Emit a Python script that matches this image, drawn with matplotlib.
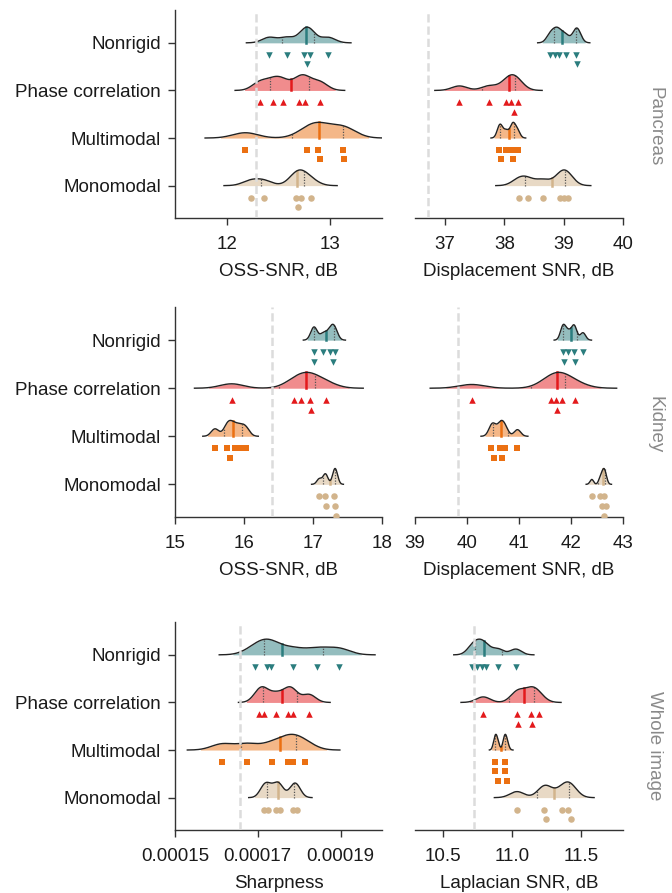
import numpy as np
import matplotlib.pyplot as plt

plt.rcParams['font.family'] = ['Liberation Sans', 'DejaVu Sans']

methods = ['Nonrigid', 'Phase correlation', 'Multimodal', 'Monomodal']
colors = ['#2b7d7e', '#e31a1c', '#eb7012', '#d2b48c']
markers = ['v', '^', 's', 'o']
regions = ['Pancreas', 'Kidney', 'Whole image']

# values per method, order as in `methods`
pancreas_oss = [
    [12.41, 12.58, 12.75, 12.78, 12.80, 12.98],
    [12.32, 12.45, 12.54, 12.70, 12.76, 12.90],
    [12.18, 12.78, 12.88, 12.90, 13.12, 13.13],
    [12.23, 12.36, 12.67, 12.69, 12.72, 12.81],
]
pancreas_disp = [
    [38.77, 38.86, 38.92, 39.03, 39.21, 39.23],
    [37.24, 37.74, 38.03, 38.11, 38.16, 38.22],
    [37.91, 37.94, 38.03, 38.13, 38.15, 38.22],
    [38.24, 38.39, 38.65, 38.94, 39.01, 39.07],
]
kidney_oss = [
    [17.01, 17.02, 17.15, 17.24, 17.29, 17.32],
    [15.82, 16.73, 16.83, 16.96, 16.97, 17.19],
    [15.58, 15.75, 15.80, 15.87, 15.95, 16.03],
    [17.09, 17.17, 17.19, 17.31, 17.32, 17.33],
]
kidney_disp = [
    [41.84, 41.86, 41.95, 42.05, 42.07, 42.23],
    [40.09, 41.62, 41.72, 41.74, 41.82, 42.08],
    [40.47, 40.51, 40.63, 40.67, 40.74, 40.97],
    [42.40, 42.56, 42.60, 42.63, 42.64, 42.67],
]
whole_sharp = [
    [0.0001694, 0.0001723, 0.0001733, 0.0001785, 0.0001844, 0.0001896],
    [0.0001704, 0.0001714, 0.0001744, 0.0001773, 0.0001784, 0.0001824],
    [0.0001614, 0.0001674, 0.0001734, 0.0001773, 0.0001784, 0.0001814],
    [0.0001714, 0.0001725, 0.0001744, 0.0001754, 0.0001785, 0.0001795],
]
whole_lap = [
    [10.710, 10.744, 10.780, 10.812, 10.899, 11.027],
    [10.792, 11.036, 11.046, 11.133, 11.145, 11.193],
    [10.879, 10.879, 10.896, 10.947, 10.947, 10.964],
    [11.036, 11.232, 11.244, 11.360, 11.406, 11.428],
]

panels = [
    [pancreas_oss, pancreas_disp],
    [kidney_oss, kidney_disp],
    [whole_sharp, whole_lap],
]
ref_lines = [[12.285, 36.71], [16.40, 39.82], [0.0001658, 10.727]]
xlabels = [['OSS-SNR, dB', 'Displacement SNR, dB'],
           ['OSS-SNR, dB', 'Displacement SNR, dB'],
           ['Sharpness', 'Laplacian SNR, dB']]
xlims = [[(11.5, 13.5), (36.49, 40.0)],
         [(15, 18), (39, 43)],
         [(0.00015, 0.0002), (10.3, 11.8)]]
xticks = [[[12, 13], [37, 38, 39, 40]],
          [[15, 16, 17, 18], [39, 40, 41, 42, 43]],
          [[0.00015, 0.00017, 0.00019], [10.5, 11.0, 11.5]]]
xticklabels = [[['12', '13'], ['37', '38', '39', '40']],
               [['15', '16', '17', '18'], ['39', '40', '41', '42', '43']],
               [['0.00015', '0.00017', '0.00019'], ['10.5', '11.0', '11.5']]]

W, H = 672, 893
fig = plt.figure(figsize=(W / 100, H / 100), dpi=100)

row_px = [(10, 218), (307, 517), (622, 830)]
col_px = [(175, 382), (415, 623)]
label_y = [127, 425, 746]
FS = 13.5


def swarm_offsets(v, sep):
    rows = []
    ys = np.zeros(len(v))
    for k in np.argsort(v):
        r = 0
        while r < len(rows) and any(abs(v[k] - v[j]) < sep for j in rows[r]):
            r += 1
        if r == len(rows):
            rows.append([])
        rows[r].append(k)
        ys[k] = 0.25 + 0.2 * r
    return ys


def draw_panel(ax, groups, xlim, ref):
    span = xlim[1] - xlim[0]
    for i, (vals, col, mk) in enumerate(zip(groups, colors, markers)):
        v = np.asarray(vals, float)
        bw = 0.5 * v.std(ddof=1) * len(v) ** -0.2
        grid = np.linspace(v.min() - 3.2 * bw, v.max() + 3.2 * bw, 500)
        dens = np.exp(-0.5 * ((grid[:, None] - v[None, :]) / bw) ** 2).sum(1)
        dens = dens / dens.max() * 0.33
        inside = (grid >= v.min() - 2 * bw) & (grid <= v.max() + 2 * bw)
        ax.fill_between(grid, i, i - dens, where=inside, color=col, alpha=0.5, lw=0, zorder=2)
        ax.plot(grid, i - dens, color='#222222', lw=1, zorder=4)

        med = np.median(v)
        q1, q3 = np.percentile(v, [25, 75], method='weibull')
        ax.plot([med, med], [i, i - np.interp(med, grid, dens)], color=col, lw=1.8, zorder=3)
        for q in (q1, q3):
            ax.plot([q, q], [i, i - np.interp(q, grid, dens)], color='#555555',
                    lw=0.9, ls=(0, (1, 1.2)), zorder=3)

        ys = i + swarm_offsets(v, 0.017 * span)
        ax.scatter(v, ys, marker=mk, s=22, color=col, lw=0, zorder=3)

    ax.axvline(ref, color='#dcdcdc', lw=1.8, ls=(0, (3.3, 1.6)), zorder=5)
    ax.set_xlim(*xlim)
    ax.set_ylim(3.68, -0.69)
    for s in ('top', 'right'):
        ax.spines[s].set_visible(False)
    for s in ('left', 'bottom'):
        ax.spines[s].set_color('#333333')
        ax.spines[s].set_linewidth(1)
    ax.tick_params(colors='#333333', labelcolor='#1a1a1a', length=5, width=1,
                   pad=5, labelsize=FS)
    ax.tick_params(axis='x', pad=8)


for r in range(3):
    top, bot = row_px[r]
    for c in range(2):
        x0, x1 = col_px[c]
        ax = fig.add_axes([x0 / W, 1 - bot / H, (x1 - x0) / W, (bot - top) / H])
        draw_panel(ax, panels[r][c], xlims[r][c], ref_lines[r][c])
        ax.set_xticks(xticks[r][c])
        ax.set_xticklabels(xticklabels[r][c])
        ax.set_xlabel(xlabels[r][c], fontsize=FS, color='#1a1a1a', labelpad=7)
        if c == 0:
            ax.set_yticks(range(4))
            ax.set_yticklabels(methods, fontsize=FS)
        else:
            ax.spines['left'].set_visible(False)
            ax.set_yticks([])
    fig.text(655 / W, 1 - label_y[r] / H, regions[r], rotation=-90, color='#8a8a8a',
             fontsize=FS, ha='center', va='center')

fig.savefig('out.png', dpi=100)
